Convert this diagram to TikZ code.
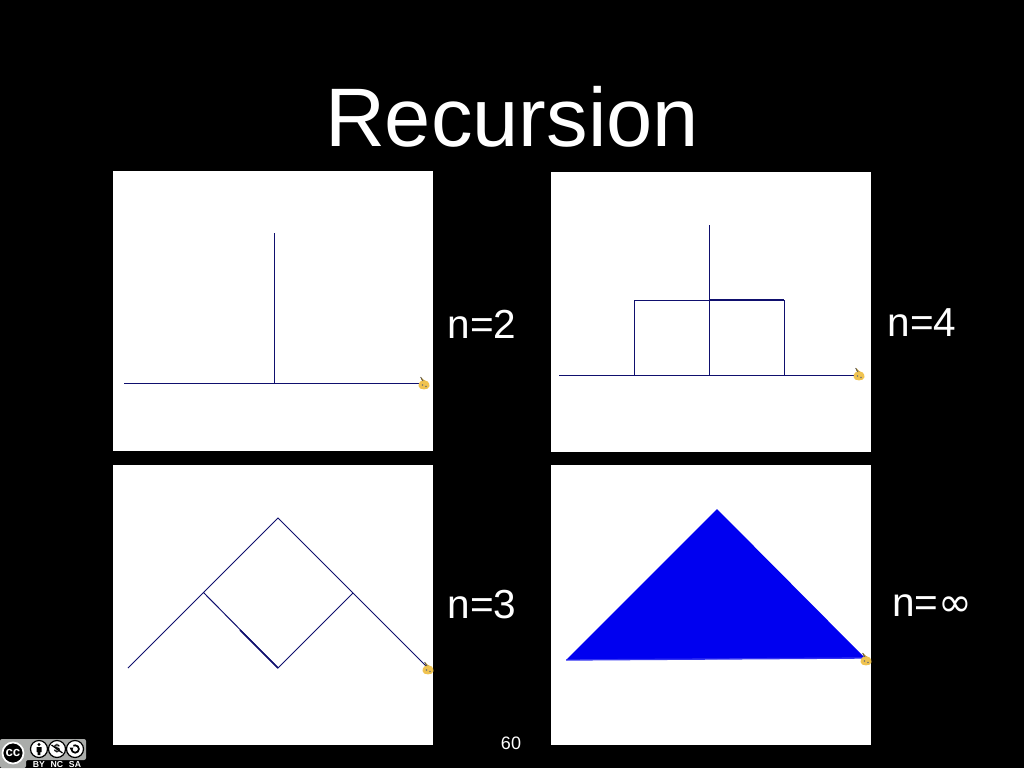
\documentclass[tikz,border=0pt]{standalone}
\usepackage{fontspec}
\setmainfont{Liberation Sans}
\newfontfamily\dejavu{DejaVu Sans}
\definecolor{linecol}{RGB}{15,15,110}
\definecolor{fillblue}{RGB}{0,0,240}
\definecolor{buggold}{RGB}{240,195,80}
\definecolor{badgegrey}{RGB}{170,172,170}
\tikzset{
  x=0.75pt,y=-0.75pt,
  panel/.style={fill=white,draw=none},
  curve/.style={draw=linecol,line width=0.75pt,line join=miter},
  heavy/.style={draw=linecol,line width=1.2pt},
  lab/.style={text=white,font=\fontsize{30.4}{36}\selectfont,inner sep=0pt,anchor=center},
  tinylab/.style={text=white,font=\bfseries\fontsize{6.5}{7}\selectfont,inner sep=0pt},
  bug/.pic={
    \fill[buggold] (-5.5,2) .. controls (-5.5,-2) and (-2.5,-4) .. (0,-4) .. controls (2.5,-4) and (5.5,-2) .. (5.5,2) .. controls (5.5,6.5) and (-5.5,6.5) .. (-5.5,2) -- cycle;
    \fill[buggold!85!black] (-3,-4) -- (-3,-7) -- (1,-3) -- cycle;
    \draw[black!70,line width=0.5pt] (-3.5,-7) -- (-1,-3);
    \fill[black!55] (-1.5,1) circle (0.8) (2,2.5) circle (0.8);
  }
}
\begin{document}
\begin{tikzpicture}
\useasboundingbox (0,0) rectangle (1024,768);
\fill[black] (0,0) rectangle (1024,768);
\node[text=white,font=\fontsize{62.3}{70}\selectfont,inner sep=0pt] (title) at (512,117) {Recursion};

\fill[panel] (113,171) rectangle (433,451);
\fill[panel] (551,172) rectangle (871,452);
\fill[panel] (113,465) rectangle (433,745);
\fill[panel] (551,465) rectangle (871,745);

% n=2
\draw[curve] (124,383) -- (424,383) (274,383) -- (274,233);
\pic at (424,384) {bug};
% n=4
\draw[curve] (559,375) -- (859,375) (634,375) -- (634,300) -- (784,300) -- (784,375) (709,375) -- (709,225);
\draw[heavy] (709,299.6) -- (784,299.6);
\pic at (859,375) {bug};
% n=3
\draw[curve] (128,668) -- (278,518) -- (428,668) (204,593) -- (278,668) -- (353,593);
\draw[heavy] (240,630) -- (278,668);
\pic at (428,669) {bug};
% n=inf
\fill[fillblue] (566,660) -- (717,509) -- (865,658) -- cycle;
\draw[fillblue!80!white,line width=1pt] (566,660) -- (865,658);
\pic at (866,660) {bug};

\node[lab] (n2) at (482,324) {n=2};
\node[lab] (n4) at (922,323) {n=4};
\node[lab] (n3) at (482,605) {n=3};
\node[lab] (ninf) at (932,606) {n={\dejavu ∞}};
\node[text=white,font=\fontsize{13.5}{16}\selectfont,inner sep=0pt] (page) at (511,743) {60};

% licence badge
\fill[badgegrey,rounded corners=1.5pt] (0,739) -- (86,739) -- (86,760) -- (26,760) -- (26,768) -- (0,768) -- cycle;
\draw[fill=black,draw=white,line width=1.3pt] (13,753) circle (10.5);
\node[text=white,font=\bfseries\fontsize{10}{10}\selectfont,inner sep=0pt] (cc) at (13,753) {cc};
\foreach \cx in {39,57,75}{
  \draw[fill=white,draw=black,line width=0.9pt] (\cx,749) circle (8.5);
}
\fill[black] (39,744.5) circle (1.6);
\fill[black] (36.5,747) rectangle (41.5,752) (37.7,752) rectangle (40.3,755);
\node[text=black,font=\bfseries\fontsize{8.5}{8.5}\selectfont,inner sep=0pt] (ncsign) at (57,749) {\$};
\draw[black,line width=0.9pt] (51.5,745) -- (62.5,753);
\draw[black,line width=1.3pt] (71.5,749) arc (180:-120:3.7);
\fill[black] (69.5,747.5) -- (73.5,747.5) -- (71.5,751) -- cycle;
\node[tinylab] (tby) at (39,764.5) {BY};
\node[tinylab] (tnc) at (57,764.5) {NC};
\node[tinylab] (tsa) at (75,764.5) {SA};
\end{tikzpicture}
\end{document}
